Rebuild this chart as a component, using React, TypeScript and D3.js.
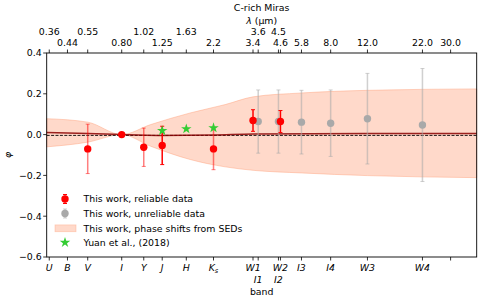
import React, { useEffect, useRef } from 'react';
import * as d3 from 'd3';

// band names and wavelengths (micron) for the tick marks
const bandNames = ['U', 'B', 'V', 'I', 'Y', 'J', 'H', 'Ks', 'W1', 'I1', 'W2', 'I2', 'I3', 'I4', 'W3', 'W4', ''];
const bandLambda = [0.36, 0.44, 0.55, 0.80, 1.02, 1.25, 1.63, 2.2, 3.4, 3.6, 4.6, 4.5, 5.8, 8.0, 12.0, 22.0, 30.0];
const lambdaLabels = ['0.36', '0.44', '0.55', '0.80', '1.02', '1.25', '1.63', '2.2', '3.4', '3.6', '4.6', '4.5', '5.8', '8.0', '12.0', '22.0', '30.0'];
const topUpperRow = ['0.36', '0.55', '1.02', '1.63', '3.6', '4.5']; // staggered labels
const bottomLowerRow = ['I1', 'I2'];

const yTicks = [0.4, 0.2, 0.0, -0.2, -0.4, -0.6];

// this work, reliable
const relLambda = [0.55, 0.80, 1.02, 1.25, 2.2, 3.4, 4.6];
const relPhi = [-0.070, 0.0, -0.062, -0.053, -0.070, 0.069, 0.064];
const relErr = [0.121, 0.0, 0.094, 0.094, 0.102, 0.053, 0.054];
const relAlpha = [0.5, 1, 0.5, 1, 0.5, 1, 1];

// this work, unreliable
const unrLambda = [3.6, 4.5, 5.8, 8.0, 12.0, 22.0];
const unrPhi = [0.064, 0.064, 0.061, 0.056, 0.078, 0.047];
const unrErr = [0.155, 0.155, 0.156, 0.163, 0.222, 0.277];

// Yuan et al. (2018)
const yuanLambda = [1.25, 1.63, 2.2];
const yuanPhi = [0.019, 0.028, 0.033];

// phase shifts from SEDs (band)
const sedLambda = [0.35, 0.55, 0.80, 1.1, 1.7, 2.5, 3.4, 5.8, 12.0, 40.0];
const sedUpper = [0.078, 0.061, 0.0, 0.049, 0.106, 0.147, 0.185, 0.204, 0.217, 0.224];
const sedLower = [-0.060, -0.037, 0.0, -0.057, -0.122, -0.158, -0.175, -0.188, -0.201, -0.211];
// median line
const medLambda = [0.35, 0.55, 0.80, 1.2, 2.2, 3.4, 12.0, 40.0];
const medPhi = [0.010, 0.006, 0.0, -0.004, -0.002, 0.003, 0.005, 0.005];

const FONT = 'DejaVu Sans';
const FS = 9.4;

export default function App() {
  const svgRef = useRef<SVGSVGElement | null>(null);

  useEffect(() => {
    if (!svgRef.current) return;
    const svg = d3.select(svgRef.current);
    svg.selectAll('*').remove();

    const L = 46.7, R = 476.7, T = 53, B = 257;
    const x = d3.scaleLog().domain([0.35, 40]).range([L, R]);
    const y = d3.scaleLinear().domain([-0.6, 0.4]).range([B, T]);

    const plot = svg.append('g');

    // shaded SED band
    const area = d3.area<number>()
      .x((_, i) => x(sedLambda[i]))
      .y0((_, i) => y(sedLower[i]))
      .y1((_, i) => y(sedUpper[i]))
      .curve(d3.curveMonotoneX);
    plot.append('path')
      .attr('d', area(sedLambda))
      .attr('fill', '#ffa07a').attr('fill-opacity', 0.4)
      .attr('stroke', '#ffa07a').attr('stroke-opacity', 0.45).attr('stroke-width', 1);

    // zero line (dashed)
    plot.append('line')
      .attr('x1', L).attr('x2', R).attr('y1', y(0) + 0.8).attr('y2', y(0) + 0.8)
      .attr('stroke', '#000').attr('stroke-width', 0.9).attr('stroke-dasharray', '3,1.4');

    // median line
    const line = d3.line<number>()
      .x((_, i) => x(medLambda[i]))
      .y((_, i) => y(medPhi[i]))
      .curve(d3.curveMonotoneX);
    plot.append('path').attr('d', line(medLambda))
      .attr('fill', 'none').attr('stroke', '#8b0000').attr('stroke-opacity', 0.85).attr('stroke-width', 1.5);

    const errbar = (g: any, cx: number, v: number, e: number, color: string, alpha: number) => {
      if (e <= 0) return;
      const y1 = y(v + e), y2 = y(v - e);
      g.append('line').attr('x1', cx).attr('x2', cx).attr('y1', y1).attr('y2', y2)
        .attr('stroke', color).attr('stroke-opacity', alpha).attr('stroke-width', 1.5);
      [y1, y2].forEach(yy => {
        g.append('line').attr('x1', cx - 2).attr('x2', cx + 2).attr('y1', yy).attr('y2', yy)
          .attr('stroke', color).attr('stroke-opacity', alpha).attr('stroke-width', 1);
      });
    };

    // unreliable (gray)
    unrLambda.forEach((l, i) => {
      errbar(plot, x(l), unrPhi[i], unrErr[i], '#a9a9a9', 0.55);
      plot.append('circle').attr('cx', x(l)).attr('cy', y(unrPhi[i])).attr('r', 3.7).attr('fill', '#a9a9a9');
    });

    // reliable (red)
    relLambda.forEach((l, i) => {
      errbar(plot, x(l), relPhi[i], relErr[i], '#ff0000', relAlpha[i]);
      plot.append('circle').attr('cx', x(l)).attr('cy', y(relPhi[i])).attr('r', 3.7).attr('fill', '#ff0000');
    });

    // Yuan stars
    const star = d3.symbol().type(d3.symbolStar).size(34);
    yuanLambda.forEach((l, i) => {
      plot.append('path').attr('d', star()!)
        .attr('transform', `translate(${x(l)},${y(yuanPhi[i])})`)
        .attr('fill', '#33cc33');
    });

    // frame
    svg.append('rect').attr('x', L).attr('y', T).attr('width', R - L).attr('height', B - T)
      .attr('fill', 'none').attr('stroke', '#000').attr('stroke-width', 0.9);

    const txt = (xx: number, yy: number, s: string, anchor = 'middle') =>
      svg.append('text').attr('x', xx).attr('y', yy).attr('text-anchor', anchor)
        .attr('font-family', FONT).attr('font-size', FS).attr('fill', '#000').text(s);

    // y axis
    yTicks.forEach(t => {
      svg.append('line').attr('x1', L - 3.5).attr('x2', L).attr('y1', y(t)).attr('y2', y(t))
        .attr('stroke', '#000').attr('stroke-width', 0.8);
      txt(L - 5, y(t) + 3.4, t.toFixed(1).replace('-', '\u2212'), 'end');
    });
    svg.append('text')
      .attr('transform', `translate(11,${(T + B) / 2}) rotate(-90)`)
      .attr('text-anchor', 'middle').attr('font-family', FONT).attr('font-size', FS)
      .attr('font-style', 'italic').text('\u03c6');

    // bottom axis: bands
    bandLambda.forEach((l, i) => {
      const xx = x(l);
      svg.append('line').attr('x1', xx).attr('x2', xx).attr('y1', B).attr('y2', B + 3.5)
        .attr('stroke', '#000').attr('stroke-width', 0.8);
      svg.append('line').attr('x1', xx).attr('x2', xx).attr('y1', T).attr('y2', T - 3.5)
        .attr('stroke', '#000').attr('stroke-width', 0.8);

      const name = bandNames[i];
      if (name) {
        const by = bottomLowerRow.includes(name) ? 282.8 : 270.8;
        const t = svg.append('text').attr('x', xx).attr('y', by).attr('text-anchor', 'middle')
          .attr('font-family', FONT).attr('font-size', FS).attr('font-style', 'italic');
        if (name === 'Ks') {
          t.append('tspan').text('K');
          t.append('tspan').attr('font-size', FS * 0.7).attr('dy', 2).text('s');
        } else {
          t.text(name);
        }
      }
      const lab = lambdaLabels[i];
      txt(xx, topUpperRow.includes(lab) ? 35.2 : 46.2, lab);
    });

    txt((L + R) / 2, 295, 'band');

    // top axis title
    const lt = svg.append('text').attr('x', (L + R) / 2).attr('y', 23.5).attr('text-anchor', 'middle')
      .attr('font-family', FONT).attr('font-size', FS);
    lt.append('tspan').attr('font-style', 'italic').text('\u03bb');
    lt.append('tspan').text(' (\u03bcm)');
    txt((L + R) / 2, 10.8, 'C-rich Miras');

    // legend
    const lg = svg.append('g');
    const rows = [199, 213.5, 228.3, 242.5];
    const mx = 65, tx = 83.5;
    // reliable
    [rows[0] - 4.5, rows[0] + 4.5].forEach(yy => {
      lg.append('line').attr('x1', mx - 2).attr('x2', mx + 2).attr('y1', yy).attr('y2', yy)
        .attr('stroke', '#ff0000').attr('stroke-width', 1);
    });
    lg.append('line').attr('x1', mx).attr('x2', mx).attr('y1', rows[0] - 4.5).attr('y2', rows[0] + 4.5)
      .attr('stroke', '#ff0000').attr('stroke-width', 1.5).attr('stroke-opacity', 0.5);
    lg.append('circle').attr('cx', mx).attr('cy', rows[0]).attr('r', 3.7).attr('fill', '#ff0000');
    // unreliable
    [rows[1] - 4.5, rows[1] + 4.5].forEach(yy => {
      lg.append('line').attr('x1', mx - 2).attr('x2', mx + 2).attr('y1', yy).attr('y2', yy)
        .attr('stroke', '#a9a9a9').attr('stroke-opacity', 0.55).attr('stroke-width', 1);
    });
    lg.append('line').attr('x1', mx).attr('x2', mx).attr('y1', rows[1] - 4.5).attr('y2', rows[1] + 4.5)
      .attr('stroke', '#a9a9a9').attr('stroke-width', 1.5).attr('stroke-opacity', 0.55);
    lg.append('circle').attr('cx', mx).attr('cy', rows[1]).attr('r', 3.7).attr('fill', '#a9a9a9');
    // band patch
    lg.append('rect').attr('x', 55).attr('y', rows[2] - 3.4).attr('width', 21).attr('height', 6.8)
      .attr('fill', '#ffa07a').attr('fill-opacity', 0.4)
      .attr('stroke', '#ffa07a').attr('stroke-opacity', 0.45).attr('stroke-width', 0.8);
    // star
    lg.append('path').attr('d', star()!).attr('transform', `translate(${mx},${rows[3]})`).attr('fill', '#33cc33');

    const labels = ['This work, reliable data', 'This work, unreliable data',
      'This work, phase shifts from SEDs', 'Yuan et al., (2018)'];
    labels.forEach((s, i) => txt(tx, rows[i] + 3.4, s, 'start'));
  }, []);

  return (
    <svg ref={svgRef} width={480} height={300}
      style={{ position: 'absolute', left: 0, top: 0, background: '#fff' }} />
  );
}
